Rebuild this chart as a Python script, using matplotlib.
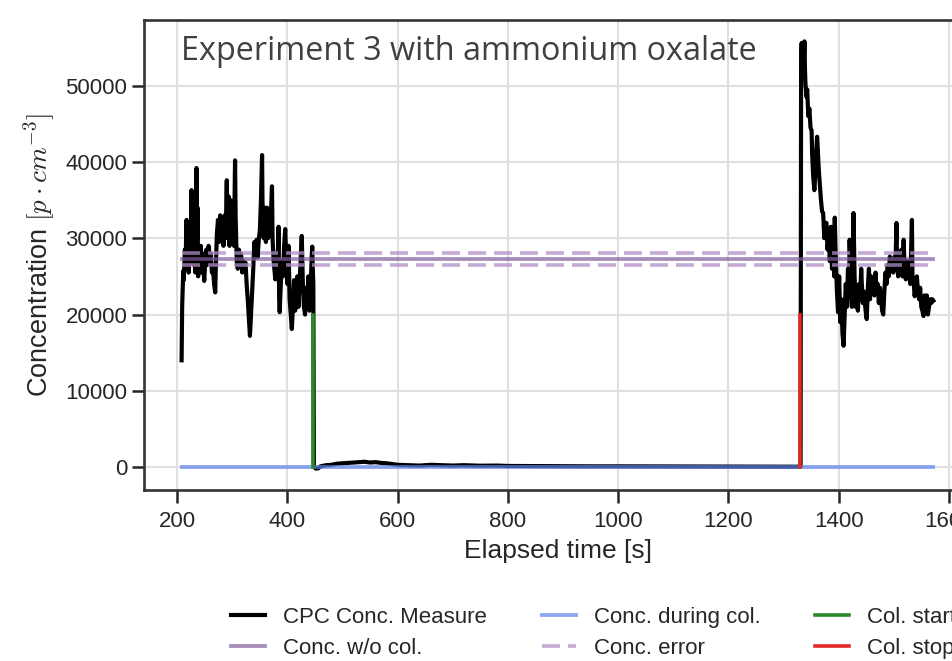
import numpy as np
import matplotlib
matplotlib.use('Agg')
import matplotlib.pyplot as plt

# CPC measurement before collection (time [s], conc [p/cm3])
t_before = [208, 209, 211, 212, 214, 215, 217, 218, 220, 221, 223, 224, 226, 227, 229, 230,
            232, 233, 235, 236, 237, 238, 240, 241, 243, 244, 246, 248, 249, 251, 253, 255,
            257, 259, 261, 263, 265, 267, 269, 270, 272, 274, 276, 278, 280, 282, 284, 286,
            288, 290, 291, 293, 295, 297, 299, 301, 303, 305, 306, 308, 310, 312, 314, 316,
            318, 320, 322, 324, 326, 328, 330, 332, 334, 336, 338, 340, 342, 344, 346, 348,
            350, 352, 354, 355, 357, 359, 361, 363, 365, 367, 369, 372, 373, 375, 377, 378,
            380, 382, 384, 385, 386, 388, 390, 392, 394, 396, 398, 400, 402, 404, 406, 408,
            410, 412, 414, 416, 418, 420, 422, 424, 426, 428, 430, 432, 434, 436, 438, 440,
            442, 444, 445, 446, 447]
c_before = [14000, 21000, 25700, 24500, 28500, 26000, 32400, 27000, 30500, 25500, 31000, 27000,
            36300, 29000, 33000, 26500, 30000, 25500, 39200, 30000, 34000, 25000, 28500, 26000,
            29000, 25500, 28000, 26000, 24400, 27000, 28500, 26500, 29000, 27500, 28000, 25500,
            26000, 24000, 22900, 26000, 30500, 32400, 29500, 33000, 30000, 31500, 29000, 33000,
            30000, 37600, 30500, 35500, 29000, 35000, 30000, 32000, 29000, 40200, 33000, 27000,
            26000, 28500, 27500, 27900, 25500, 27000, 26500, 26800, 24000, 22000, 19500, 17200,
            20000, 23000, 26000, 29500, 28000, 29800, 27500, 29800, 31000, 35000, 40900, 33000,
            30000, 34000, 29500, 34000, 30000, 33000, 31000, 36800, 30000, 27000, 25500, 24600,
            28000, 26000, 31500, 22000, 20300, 24000, 27000, 25000, 29000, 31200, 27000, 24000,
            29000, 22000, 20000, 18100, 21000, 24500, 20500, 23000, 25000, 21000, 24000, 27000,
            30300, 24000, 21000, 20000, 23500, 21500, 25000, 20500, 23000, 27500, 28900, 26000,
            24000]

# during collection
t_during = [448, 452, 456, 460, 470, 480, 490, 500, 510, 520, 530, 540, 550, 560, 570, 580,
            590, 600, 620, 640, 660, 680, 700, 720, 750, 780, 800, 850, 900, 950, 1000, 1100,
            1200, 1300, 1330]
c_during = [0, -200, -150, 100, 250, 300, 450, 500, 550, 600, 650, 700, 600, 650, 550, 500,
            400, 300, 250, 200, 300, 250, 200, 250, 180, 200, 150, 130, 120, 100, 100, 80,
            70, 60, 50]

# after collection
t_after = [1331, 1332, 1333, 1334, 1336, 1337, 1338, 1339, 1340, 1342, 1343, 1345, 1347, 1349,
           1351, 1352, 1354, 1356, 1357, 1359, 1361, 1362, 1364, 1366, 1368, 1370, 1372, 1374,
           1376, 1378, 1380, 1382, 1384, 1386, 1388, 1390, 1392, 1393, 1395, 1397, 1399, 1401,
           1403, 1405, 1407, 1409, 1411, 1413, 1415, 1417, 1419, 1420, 1422, 1424, 1426, 1427,
           1429, 1431, 1433, 1435, 1437, 1439, 1441, 1442, 1444, 1446, 1449, 1451, 1453, 1455,
           1457, 1459, 1461, 1463, 1465, 1467, 1469, 1471, 1473, 1475, 1477, 1479, 1481, 1483,
           1485, 1487, 1489, 1491, 1493, 1495, 1497, 1499, 1501, 1503, 1505, 1506, 1508, 1510,
           1512, 1514, 1516, 1518, 1520, 1522, 1524, 1526, 1528, 1530, 1533, 1534, 1536, 1538,
           1540, 1542, 1544, 1546, 1548, 1550, 1552, 1554, 1556, 1558, 1560, 1562, 1564, 1566,
           1568, 1570, 1572]
c_after = [100, 54500, 55600, 54000, 55400, 53500, 55800, 52000, 50000, 48500, 49500, 46000,
           47000, 44500, 44100, 41000, 38000, 36300, 37500, 41000, 43300, 42000, 39000, 37000,
           35000, 33500, 33300, 30000, 32000, 32000, 28500, 31000, 27000, 31500, 26000, 30500,
           25000, 32700, 27000, 23000, 20300, 25000, 19000, 22000, 17500, 15900, 20000, 24000,
           21000, 26000, 23000, 29800, 24000, 21000, 27000, 33300, 25000, 21000, 23500, 20500,
           24000, 22000, 26000, 24200, 21500, 23000, 20500, 19400, 23500, 26000, 22000, 25000,
           23000, 24500, 22500, 25500, 23000, 24000, 21500, 23500, 22000, 20500, 20000, 23000,
           25500, 24000, 26500, 25000, 27600, 26000, 27000, 25500, 27500, 26000, 32000, 26500,
           25000, 27000, 26000, 28500, 25000, 29800, 25500, 24600, 27000, 25000, 26500, 24000,
           32400, 25000, 24500, 22400, 24000, 25000, 23000, 22000, 23500, 21000, 20500, 19800,
           22500, 21500, 22500, 20000, 21000, 22000, 21500, 22000, 21800]

conc_wo_col = 27300
conc_err = 760
conc_during_col = 80
t_col_start = 447
t_col_stop = 1330
marker_height = 20000

t_all = t_before + t_during + t_after
c_all = c_before + c_during + c_after

plt.rcParams['font.family'] = 'Liberation Sans'
plt.rcParams['mathtext.fontset'] = 'cm'
plt.rcParams['text.color'] = '.15'
plt.rcParams['axes.labelcolor'] = '.15'
plt.rcParams['xtick.color'] = '.15'
plt.rcParams['ytick.color'] = '.15'

fig = plt.figure(figsize=(9.53, 6.61), dpi=100)
ax = fig.add_axes([144 / 953, 1 - 490 / 661, 827 / 953, 470 / 661])

ax.plot(t_all, c_all, color='black', lw=3.0, label='CPC Conc. Measure', zorder=3)
t_span = [t_all[0], t_all[-1]]
ax.plot(t_span, [conc_wo_col] * 2, color='#805b9c', alpha=0.7, lw=2.7,
        label='Conc. w/o col.', zorder=4)
ax.plot(t_span, [conc_during_col] * 2, color='#5f86ee', alpha=0.7, lw=2.8,
        label='Conc. during col.', zorder=4)
ax.plot(t_span, [conc_wo_col + conc_err] * 2, color='#b08ec8', alpha=0.75, lw=2.6,
        dashes=(5.0, 2.2), label='Conc. error', zorder=4)
ax.plot(t_span, [conc_wo_col - conc_err] * 2, color='#b08ec8', alpha=0.75, lw=2.6,
        dashes=(5.0, 2.2), zorder=4)
ax.plot([t_col_start] * 2, [0, marker_height], color='#2a8a2a', lw=2.6,
        label='Col. start', zorder=5)
ax.plot([t_col_stop] * 2, [0, marker_height], color='#e32626', lw=2.6,
        label='Col. stop', zorder=5)

ax.margins(x=0.05, y=0.05)
ax.set_xticks([200, 400, 600, 800, 1000, 1200, 1400, 1600])
ax.set_yticks([0, 10000, 20000, 30000, 40000, 50000])
ax.grid(True, color='#e0e0e0', lw=1.5)
ax.set_axisbelow(True)
for s in ax.spines.values():
    s.set_linewidth(1.9)
    s.set_color('.2')
ax.tick_params(axis='both', labelsize=16, length=9, width=1.8, direction='out')
ax.tick_params(axis='x', pad=6)
ax.tick_params(axis='y', pad=3)
ax.set_xlabel('Elapsed time [s]', fontsize=19, labelpad=5)
ax.set_ylabel(r'Concentration $[p \cdot cm^{-3}]$', fontsize=19.5, labelpad=5)

fig.text(181 / 953, 1 - 60 / 661, 'Experiment 3 with ammonium oxalate', family='Open Sans',
         fontsize=23.3, color='#404040', va='baseline', ha='left')

handles, labels = ax.get_legend_handles_labels()
fig.legend(handles, labels, ncol=3, loc='upper left', bbox_to_anchor=(231 / 953, 1 - 607 / 661),
           frameon=False, fontsize=16, handlelength=1.55, handletextpad=0.8,
           columnspacing=2.45, labelspacing=0.45, borderpad=0, borderaxespad=0)

fig.savefig('out.png', dpi=100)
